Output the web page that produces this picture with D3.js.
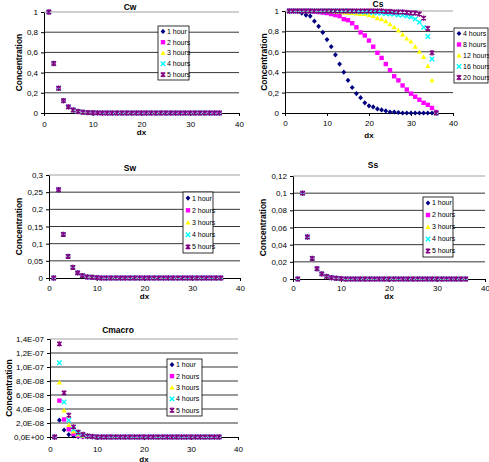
<!DOCTYPE html>
<html>
<head>
<meta charset="utf-8">
<script src="https://cdn.jsdelivr.net/npm/d3@7"></script>
<style>
  body { margin: 0; background: #fff; }
  svg { display: block; font-family: "Liberation Sans", Arial, sans-serif; }
</style>
</head>
<body>
<div id="viz"></div>
<script>
// ---- data ----
const dx = d3.range(1, 37);

const hourLabels = ["1 hour", "2 hours", "3 hours", "4 hours", "5 hours"];
const csLabels   = ["4 hours", "8 hours", "12 hours", "16 hours", "20 hours"];

// Cw: identical for every hour
const cw = [1, 0.49, 0.245, 0.122, 0.061, 0.03, 0.015, 0.008, 0.004, 0.002,
  0.001, 0, 0, 0, 0, 0, 0, 0, 0, 0, 0, 0, 0, 0, 0, 0, 0, 0, 0, 0, 0, 0, 0, 0, 0, 0];

const cs4h  = [1, 1, 0.995, 0.98, 0.96, 0.95, 0.9, 0.85, 0.79, 0.72, 0.65, 0.57,
  0.48, 0.4, 0.32, 0.25, 0.19, 0.15, 0.1, 0.07, 0.06, 0.04, 0.03, 0.02, 0.01,
  0.01, 0.005, 0, 0, 0, 0, 0, 0, 0, 0, 0];
const cs8h  = [1, 1, 1, 1, 1, 1, 0.995, 0.99, 0.985, 0.98, 0.97, 0.96, 0.95,
  0.92, 0.91, 0.88, 0.84, 0.79, 0.76, 0.71, 0.65, 0.59, 0.54, 0.48, 0.42,
  0.36, 0.32, 0.27, 0.23, 0.19, 0.16, 0.13, 0.1, 0.08, 0.05, 0.01];
const cs12h = [1, 1, 1, 1, 1, 1, 1, 1, 1, 1, 0.995, 0.99, 0.99, 0.985, 0.98,
  0.98, 0.975, 0.97, 0.97, 0.96, 0.95, 0.93, 0.92, 0.9, 0.87, 0.84, 0.81,
  0.77, 0.73, 0.7, 0.65, 0.6, 0.55, 0.46, 0.32, 0];
const cs16h = [1, 1, 1, 1, 1, 1, 1, 1, 1, 1, 1, 1, 1, 1, 1, 0.995, 0.995,
  0.99, 0.99, 0.99, 0.985, 0.98, 0.98, 0.975, 0.97, 0.97, 0.96, 0.96, 0.95,
  0.94, 0.92, 0.89, 0.84, 0.75, 0.53, 0];
const cs20h = [1, 1, 1, 1, 1, 1, 1, 1, 1, 1, 1, 1, 1, 1, 1, 1, 1, 1, 1, 1, 1,
  1, 1, 0.995, 0.995, 0.99, 0.99, 0.99, 0.985, 0.98, 0.98, 0.97, 0.93, 0.83,
  0.59, 0];

// Sw / Ss: identical for every hour
const sw = [0, 0.257, 0.127, 0.063, 0.031, 0.015, 0.007, 0.003, 0.002, 0.001,
  0, 0, 0, 0, 0, 0, 0, 0, 0, 0, 0, 0, 0, 0, 0, 0, 0, 0, 0, 0, 0, 0, 0, 0, 0, 0];
const ss = [0, 0.1, 0.049, 0.024, 0.012, 0.006, 0.003, 0.0015, 0.0008, 0.0004,
  0, 0, 0, 0, 0, 0, 0, 0, 0, 0, 0, 0, 0, 0, 0, 0, 0, 0, 0, 0, 0, 0, 0, 0, 0, 0];

const zeros = d3.range(27).map(() => 0);
const cm1h = [0, 2.4e-8, 1.0e-8, 0.35e-8, 0.15e-8, 0.05e-8, 0.02e-8, 0.01e-8, 0, ...zeros];
const cm2h = [0, 5.2e-8, 2.5e-8, 1.1e-8, 0.45e-8, 0.2e-8, 0.1e-8, 0.05e-8, 0.02e-8, ...zeros];
const cm3h = [0, 7.8e-8, 3.8e-8, 1.7e-8, 0.8e-8, 0.35e-8, 0.15e-8, 0.08e-8, 0.03e-8, ...zeros];
const cm4h = [0, 1.06e-7, 5.0e-8, 2.4e-8, 1.1e-8, 0.5e-8, 0.25e-8, 0.1e-8, 0.05e-8, ...zeros];
const cm5h = [0, 1.33e-7, 6.3e-8, 3.1e-8, 1.45e-8, 0.7e-8, 0.35e-8, 0.15e-8, 0.07e-8, ...zeros];

const xTicks = [0, 10, 20, 30, 40];
const seriesColors = ["#000080", "#ff00ff", "#ffff00", "#00ffff", "#800080"];
const markerKinds = ["diamond", "square", "triangle", "cross", "star"];

// ---- helpers ----
const comma = v => String(v).replace(".", ",");
const sci = v => {
  if (v === 0) return "0,0E+00";
  const e = Math.floor(Math.log10(v) + 1e-9);
  const m = (v / Math.pow(10, e)).toFixed(1).replace(".", ",");
  return m + "E" + (e < 0 ? "-" : "+") + String(Math.abs(e)).padStart(2, "0");
};

function drawMarker(g, kind, color, x, y) {
  const r = 2.2;
  if (kind === "diamond") {
    g.append("path").attr("d", `M${x},${y - 2.6}L${x + 2.4},${y}L${x},${y + 2.6}L${x - 2.4},${y}Z`)
      .attr("fill", color);
  } else if (kind === "square") {
    g.append("rect").attr("x", x - r).attr("y", y - r)
      .attr("width", 2 * r).attr("height", 2 * r).attr("fill", color);
  } else if (kind === "triangle") {
    g.append("path").attr("d", `M${x},${y - 2.6}L${x + 2.6},${y + 2}L${x - 2.6},${y + 2}Z`)
      .attr("fill", color);
  } else {
    const p = `M${x - r},${y - r}L${x + r},${y + r}M${x - r},${y + r}L${x + r},${y - r}` +
      (kind === "star" ? `M${x},${y - r - 0.5}L${x},${y + r + 0.5}` : "");
    g.append("path").attr("d", p).attr("stroke", color)
      .attr("stroke-width", 1.4).attr("fill", "none");
  }
}

function drawPanel(svg, {title, left, right, top, bottom, yMax, yTicks, fmt,
                          series, labels, legend, titleX, titleY, yLabelX, dxY, tickY}) {
  const x = d3.scaleLinear().domain([0, 40]).range([left, right]);
  const y = d3.scaleLinear().domain([0, yMax]).range([bottom, top]);
  const g = svg.append("g");

  // gridlines
  g.selectAll("line.grid").data(yTicks.filter(t => t > 0)).join("line")
    .attr("x1", left).attr("x2", right)
    .attr("y1", d => y(d)).attr("y2", d => y(d))
    .attr("stroke", d => d === yMax ? "#c0c0c0" : "#000")
    .attr("stroke-width", d => d === yMax ? 1.5 : 0.8);

  // y axis
  const ya = g.append("g").attr("transform", `translate(${left},0)`)
    .call(d3.axisLeft(y).tickValues(yTicks).tickFormat(fmt).tickSize(3).tickSizeOuter(0));
  ya.selectAll("text").attr("font-size", 8).attr("fill", "#000");
  ya.selectAll("line, path").attr("stroke", "#000");

  // x axis
  const xa = g.append("g").attr("transform", `translate(0,${bottom})`)
    .call(d3.axisBottom(x).tickValues(xTicks).tickSize(3).tickSizeOuter(0));
  xa.selectAll("text").attr("font-size", 8).attr("fill", "#000")
    .attr("y", tickY - bottom).attr("dy", "0.35em");
  xa.selectAll("line, path").attr("stroke", "#000");

  // titles
  g.append("text").attr("x", titleX).attr("y", titleY).attr("text-anchor", "middle")
    .attr("font-size", 8.5).attr("font-weight", "bold").text(title);
  g.append("text").attr("x", (left + right) / 2).attr("y", dxY).attr("text-anchor", "middle")
    .attr("font-size", 8).attr("font-weight", "bold").text("dx");
  g.append("text")
    .attr("transform", `translate(${yLabelX},${(top + bottom) / 2}) rotate(-90)`)
    .attr("text-anchor", "middle").attr("font-size", 8.5).attr("font-weight", "bold")
    .text("Concentration");

  // points
  const pts = g.append("g");
  series.forEach((vals, i) => {
    vals.forEach((v, j) => drawMarker(pts, markerKinds[i], seriesColors[i], x(dx[j]), y(v)));
  });

  // legend
  const lg = g.append("g");
  lg.append("rect").attr("x", legend.x).attr("y", legend.y)
    .attr("width", legend.w).attr("height", legend.h)
    .attr("fill", "#fff").attr("stroke", "#000").attr("stroke-width", 0.8);
  const row = legend.h / labels.length;
  labels.forEach((lab, i) => {
    const cy = legend.y + row * (i + 0.5);
    drawMarker(lg, markerKinds[i], seriesColors[i], legend.x + 5, cy);
    lg.append("text").attr("x", legend.x + 9).attr("y", cy).attr("dy", "0.35em")
      .attr("font-size", 7).text(lab);
  });
}

// ---- chart ----
const svg = d3.select("#viz").append("svg").attr("width", 489).attr("height", 462);

drawPanel(svg, {
  title: "Cw", left: 44, right: 239, top: 12, bottom: 113, yMax: 1,
  yTicks: [0, 0.2, 0.4, 0.6, 0.8, 1], fmt: comma,
  series: [cw, cw, cw, cw, cw], labels: hourLabels,
  legend: {x: 158, y: 26, w: 31, h: 54},
  titleX: 130, titleY: 10, yLabelX: 22, dxY: 134.5, tickY: 124
});

drawPanel(svg, {
  title: "Cs", left: 285, right: 453, top: 11, bottom: 113, yMax: 1,
  yTicks: [0, 0.2, 0.4, 0.6, 0.8, 1], fmt: comma,
  series: [cs4h, cs8h, cs12h, cs16h, cs20h], labels: csLabels,
  legend: {x: 454, y: 28, w: 34, h: 55},
  titleX: 378, titleY: 7, yLabelX: 267, dxY: 138, tickY: 123.5
});

drawPanel(svg, {
  title: "Sw", left: 49, right: 240, top: 175, bottom: 278, yMax: 0.3,
  yTicks: [0, 0.05, 0.1, 0.15, 0.2, 0.25, 0.3], fmt: comma,
  series: [sw, sw, sw, sw, sw], labels: hourLabels,
  legend: {x: 183, y: 192, w: 30, h: 61},
  titleX: 130, titleY: 171, yLabelX: 22, dxY: 299, tickY: 288.5
});

drawPanel(svg, {
  title: "Ss", left: 293, right: 485, top: 176, bottom: 279, yMax: 0.12,
  yTicks: [0, 0.02, 0.04, 0.06, 0.08, 0.1, 0.12], fmt: comma,
  series: [ss, ss, ss, ss, ss], labels: hourLabels,
  legend: {x: 423, y: 197, w: 30, h: 60},
  titleX: 373, titleY: 168, yLabelX: 266, dxY: 299, tickY: 288.5
});

drawPanel(svg, {
  title: "Cmacro", left: 50, right: 238, top: 339, bottom: 437, yMax: 1.4e-7,
  yTicks: [0, 2e-8, 4e-8, 6e-8, 8e-8, 1e-7, 1.2e-7, 1.4e-7], fmt: sci,
  series: [cm1h, cm2h, cm3h, cm4h, cm5h], labels: hourLabels,
  legend: {x: 167, y: 359, w: 35, h: 57},
  titleX: 118, titleY: 333, yLabelX: 12, dxY: 461.5, tickY: 449
});
</script>
</body>
</html>
